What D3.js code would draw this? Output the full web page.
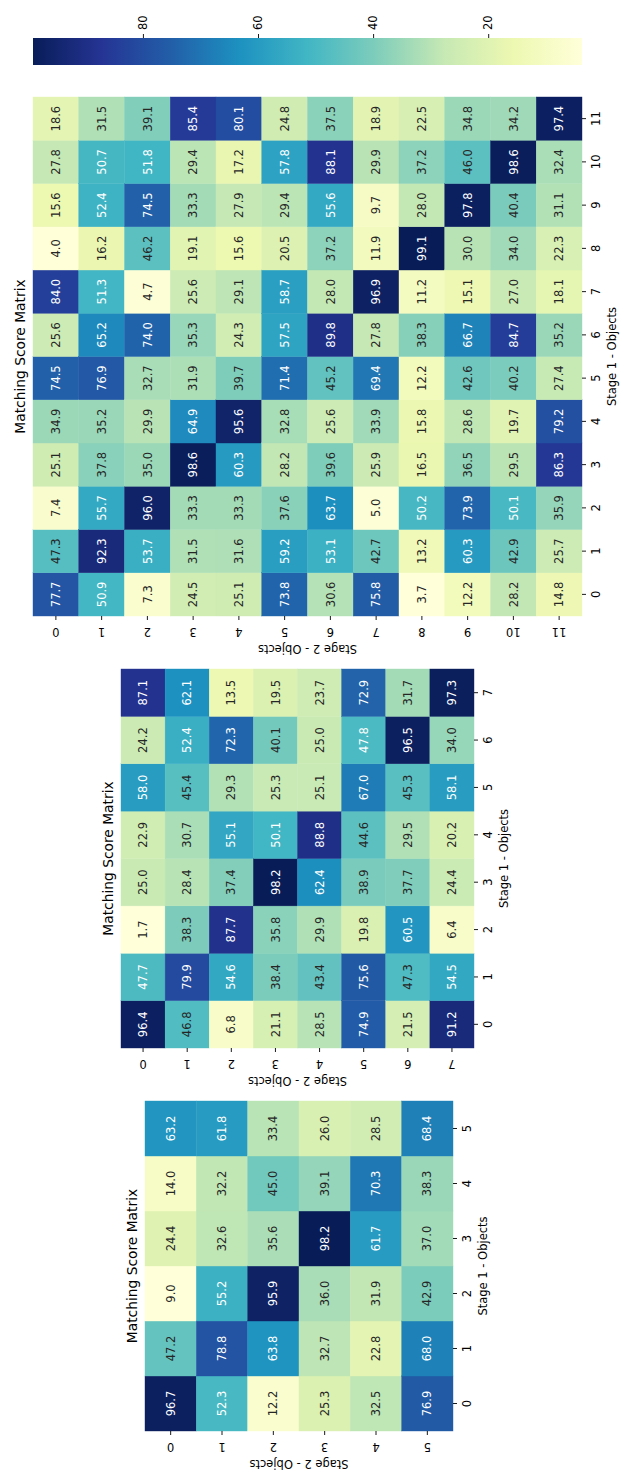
<!DOCTYPE html>
<html>
<head>
<meta charset="utf-8">
<script src="https://cdn.jsdelivr.net/npm/d3@7"></script>
<style>
  html, body { margin: 0; padding: 0; background: #fff; }
  svg { display: block; }
</style>
</head>
<body>
<script>
// ---- data -------------------------------------------------------------
const idx6  = ["0","1","2","3","4","5"];
const idx8  = ["0","1","2","3","4","5","6","7"];
const idx12 = ["0","1","2","3","4","5","6","7","8","9","10","11"];

// rows = Stage 2 objects, columns = Stage 1 objects
const scores6 = [
  [96.7, 47.2,  9.0, 24.4, 14.0, 63.2],
  [52.3, 78.8, 55.2, 32.6, 32.2, 61.8],
  [12.2, 63.8, 95.9, 35.6, 45.0, 33.4],
  [25.3, 32.7, 36.0, 98.2, 39.1, 26.0],
  [32.5, 22.8, 31.9, 61.7, 70.3, 28.5],
  [76.9, 68.0, 42.9, 37.0, 38.3, 68.4]
];

const scores8 = [
  [96.4, 47.7,  1.7, 25.0, 22.9, 58.0, 24.2, 87.1],
  [46.8, 79.9, 38.3, 28.4, 30.7, 45.4, 52.4, 62.1],
  [ 6.8, 54.6, 87.7, 37.4, 55.1, 29.3, 72.3, 13.5],
  [21.1, 38.4, 35.8, 98.2, 50.1, 25.3, 40.1, 19.5],
  [28.5, 43.4, 29.9, 62.4, 88.8, 25.1, 25.0, 23.7],
  [74.9, 75.6, 19.8, 38.9, 44.6, 67.0, 47.8, 72.9],
  [21.5, 47.3, 60.5, 37.7, 29.5, 45.3, 96.5, 31.7],
  [91.2, 54.5,  6.4, 24.4, 20.2, 58.1, 34.0, 97.3]
];

const scores12 = [
  [77.7, 47.3,  7.4, 25.1, 34.9, 74.5, 25.6, 84.0,  4.0, 15.6, 27.8, 18.6],
  [50.9, 92.3, 55.7, 37.8, 35.2, 76.9, 65.2, 51.3, 16.2, 52.4, 50.7, 31.5],
  [ 7.3, 53.7, 96.0, 35.0, 29.9, 32.7, 74.0,  4.7, 46.2, 74.5, 51.8, 39.1],
  [24.5, 31.5, 33.3, 98.6, 64.9, 31.9, 35.3, 25.6, 19.1, 33.3, 29.4, 85.4],
  [25.1, 31.6, 33.3, 60.3, 95.6, 39.7, 24.3, 29.1, 15.6, 27.9, 17.2, 80.1],
  [73.8, 59.2, 37.6, 28.2, 32.8, 71.4, 57.5, 58.7, 20.5, 29.4, 57.8, 24.8],
  [30.6, 53.1, 63.7, 39.6, 25.6, 45.2, 89.8, 28.0, 37.2, 55.6, 88.1, 37.5],
  [75.8, 42.7,  5.0, 25.9, 33.9, 69.4, 27.8, 96.9, 11.9,  9.7, 29.9, 18.9],
  [ 3.7, 13.2, 50.2, 16.5, 15.8, 12.2, 38.3, 11.2, 99.1, 28.0, 37.2, 22.5],
  [12.2, 60.3, 73.9, 36.5, 28.6, 42.6, 66.7, 15.1, 30.0, 97.8, 46.0, 34.8],
  [28.2, 42.9, 50.1, 29.5, 19.7, 40.2, 84.7, 27.0, 34.0, 40.4, 98.6, 34.2],
  [14.8, 25.7, 35.9, 86.3, 79.2, 27.4, 35.2, 18.1, 22.3, 31.1, 32.4, 97.4]
];

const colorbarTicks = [20, 40, 60, 80];
const titleText = "Matching Score Matrix";
const xLabelText = "Stage 1 - Objects";
const yLabelText = "Stage 2 - Objects";

// YlGnBu control colours (ColorBrewer, 9 classes)
const ylgnbu = ["#ffffd9","#edf8b1","#c7e9b4","#7fcdbb","#41b6c4","#1d91c0","#225ea8","#253494","#081d58"];

// ---- drawing ----------------------------------------------------------
// The figure is laid out landscape (FW x FH) and turned a quarter turn
// counter-clockwise onto the portrait page.
const FW = 1471, FH = 621;
const FONT = "'DejaVu Sans', Verdana, sans-serif";
const INK = "#000";
const DARK_TEXT = "#262626";

const svg = d3.select("body").append("svg")
  .attr("width", FH).attr("height", FW);
const fig = svg.append("g")
  .attr("transform", `translate(0,${FW}) rotate(-90)`);

const ramp = d3.piecewise(d3.interpolateRgb, ylgnbu);

function luminance(c) {
  const { r, g, b } = d3.rgb(c);
  const lin = v => { v /= 255; return v <= 0.03928 ? v / 12.92 : Math.pow((v + 0.055) / 1.055, 2.4); };
  return 0.2126 * lin(r) + 0.7152 * lin(g) + 0.0722 * lin(b);
}

const panels = [
  { labels: idx6,  values: scores6,  x0: 40,  x1: 370,  y0: 145, y1: 453 },
  { labels: idx8,  values: scores8,  x0: 423, x1: 802,  y0: 121, y1: 474 },
  { labels: idx12, values: scores12, x0: 855, x1: 1374, y0: 33,  y1: 582 }
];

const fmt = d3.format(".1f");
let lastExtent = null;

panels.forEach(p => {
  const flat = p.values.flat();
  const extent = d3.extent(flat);
  lastExtent = extent;
  const color = d3.scaleSequential(extent, ramp);

  const x = d3.scaleBand().domain(p.labels).range([p.x0, p.x1]);
  const y = d3.scaleBand().domain(p.labels).range([p.y0, p.y1]);

  const g = fig.append("g");
  const cells = p.values.flatMap((row, r) =>
    row.map((v, c) => ({ row: p.labels[r], col: p.labels[c], v })));

  g.append("g").selectAll("rect").data(cells).join("rect")
    .attr("x", d => x(d.col))
    .attr("y", d => y(d.row))
    .attr("width", x.bandwidth())
    .attr("height", y.bandwidth())
    .attr("fill", d => color(d.v))
    .attr("stroke", d => color(d.v))
    .attr("stroke-width", 0.4);

  g.append("g").selectAll("text").data(cells).join("text")
    .attr("x", d => x(d.col) + x.bandwidth() / 2)
    .attr("y", d => y(d.row) + y.bandwidth() / 2)
    .attr("dy", "0.36em")
    .attr("text-anchor", "middle")
    .attr("font-family", FONT)
    .attr("font-size", 11.5)
    .attr("fill", d => luminance(color(d.v)) > 0.408 ? DARK_TEXT : "#fff")
    .text(d => fmt(d.v));

  // x axis (Stage 1)
  const ax = g.append("g")
    .attr("transform", `translate(0,${p.y1})`)
    .call(d3.axisBottom(x).tickSize(4).tickPadding(5.5));
  ax.select(".domain").remove();
  ax.attr("font-family", FONT).attr("font-size", 11.5);
  ax.selectAll(".tick line").attr("stroke", INK).attr("stroke-width", 0.9);
  ax.selectAll(".tick text").attr("fill", INK);

  // y axis (Stage 2), labels set vertically
  const ay = g.append("g")
    .attr("transform", `translate(${p.x0},0)`)
    .call(d3.axisLeft(y).tickSize(4));
  ay.select(".domain").remove();
  ay.attr("font-family", FONT).attr("font-size", 11.5);
  ay.selectAll(".tick line").attr("stroke", INK).attr("stroke-width", 0.9);
  ay.selectAll(".tick text")
    .attr("x", null).attr("dy", null)
    .attr("fill", INK)
    .attr("text-anchor", "middle")
    .attr("transform", "translate(-16,0) rotate(-90)")
    .attr("dy", "0.36em");

  // titles
  const cx = (p.x0 + p.x1) / 2, cy = (p.y0 + p.y1) / 2;
  g.append("text")
    .attr("x", cx).attr("y", p.y0 - 13).attr("dy", "0.36em")
    .attr("text-anchor", "middle")
    .attr("font-family", FONT).attr("font-size", 13.8).attr("fill", INK)
    .text(titleText);
  g.append("text")
    .attr("x", cx).attr("y", p.y1 + 30).attr("dy", "0.36em")
    .attr("text-anchor", "middle")
    .attr("font-family", FONT).attr("font-size", 11.5).attr("fill", INK)
    .text(xLabelText);
  g.append("text")
    .attr("transform", `translate(${p.x0 - 33},${cy}) rotate(-90)`)
    .attr("dy", "0.36em")
    .attr("text-anchor", "middle")
    .attr("font-family", FONT).attr("font-size", 11.5).attr("fill", INK)
    .text(yLabelText);
});

// ---- colour bar (belongs to the last matrix) ---------------------------
const cb = { x0: 1406, x1: 1433, y0: 33, y1: 582 };
const defs = svg.append("defs");
const grad = defs.append("linearGradient")
  .attr("id", "cbar-grad")
  .attr("x1", 0).attr("y1", 1).attr("x2", 0).attr("y2", 0);
grad.selectAll("stop").data(ylgnbu).join("stop")
  .attr("offset", (d, i) => i / (ylgnbu.length - 1))
  .attr("stop-color", d => d);

fig.append("rect")
  .attr("x", cb.x0).attr("y", cb.y0)
  .attr("width", cb.x1 - cb.x0).attr("height", cb.y1 - cb.y0)
  .attr("fill", "url(#cbar-grad)");

const cScale = d3.scaleLinear().domain(lastExtent).range([cb.y1, cb.y0]);
const ac = fig.append("g")
  .attr("transform", `translate(${cb.x1},0)`)
  .call(d3.axisRight(cScale).tickValues(colorbarTicks).tickSize(4).tickPadding(4));
ac.select(".domain").remove();
ac.attr("font-family", FONT).attr("font-size", 11.5);
ac.selectAll(".tick line").attr("stroke", INK).attr("stroke-width", 0.9);
ac.selectAll(".tick text").attr("fill", INK);
</script>
</body>
</html>
